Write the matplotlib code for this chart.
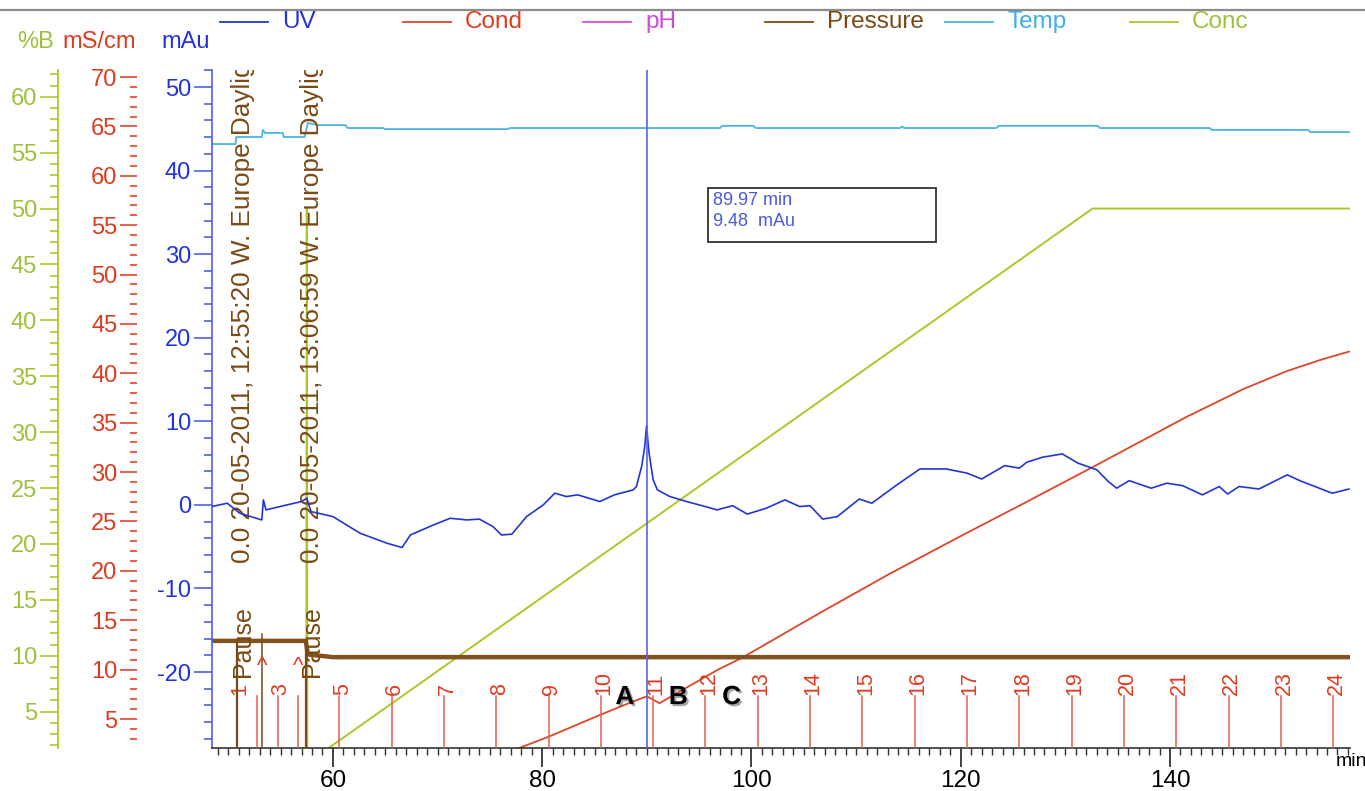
import matplotlib
matplotlib.use("Agg")
import matplotlib.pyplot as plt
import matplotlib.patheffects as pe
from matplotlib.lines import Line2D
from matplotlib.patches import Rectangle
from matplotlib.ticker import MultipleLocator

plt.rcParams['font.family'] = ['Liberation Sans', 'DejaVu Sans']
plt.rcParams['axes.unicode_minus'] = False

# colours of the traces
C_UV = '#2435d6'
C_UV_AX = '#4f60e6'
C_COND = '#e0452a'
C_PH = '#d94ce0'
C_PRES = '#7b4a14'
C_TEMP = '#4ab4e2'
C_CONC = '#a9c92a'
C_FRAC = '#e2604c'

# UV trace (min, mAu)
uv_t = [48.4, 49.9, 51.1, 53.2, 53.35, 53.6, 55.6, 57.0, 57.5, 57.9, 60.0, 62.6,
        65.2, 66.6, 67.4, 69.6, 71.2, 72.8, 74.0, 75.3, 76.1, 77.1, 78.5, 80.1,
        81.2, 82.3, 83.4, 85.5, 86.9, 88.7, 89.0, 89.5, 89.8, 89.97, 90.2, 90.6,
        91.0, 92.2, 93.8, 95.3, 96.7, 98.2, 99.6, 101.4, 103.2, 104.6, 105.6,
        106.8, 108.2, 110.3, 111.5, 113.9, 116.1, 118.6, 120.6, 122.0, 124.2,
        125.6, 126.3, 127.8, 129.7, 131.2, 133.0, 134.1, 134.9, 136.1, 138.2,
        139.7, 141.2, 143.1, 144.7, 145.5, 146.6, 148.5, 151.2, 152.4, 155.5, 157.1]
uv_v = [-0.2, 0.2, -1.0, -1.8, 0.6, -0.6, 0.0, 0.4, 0.8, -0.8, -1.4, -3.4,
        -4.6, -5.1, -3.6, -2.4, -1.6, -1.8, -1.7, -2.6, -3.6, -3.5, -1.4, 0.0,
        1.4, 1.0, 1.2, 0.4, 1.2, 1.8, 2.2, 4.6, 7.0, 9.48, 6.3, 3.0,
        1.8, 1.0, 0.4, -0.1, -0.6, -0.1, -1.1, -0.4, 0.6, -0.2, -0.1,
        -1.7, -1.4, 0.7, 0.2, 2.4, 4.3, 4.3, 3.8, 3.1, 4.7,
        4.4, 5.1, 5.7, 6.1, 5.0, 4.2, 2.8, 2.0, 2.9, 2.0,
        2.6, 2.3, 1.2, 2.2, 1.3, 2.2, 1.9, 3.6, 2.9, 1.4, 1.9]

# conductivity (mS/cm)
cond_t = [48.4, 76.3, 77.8, 80.6, 85.5, 88.5, 90.0, 91.2, 93.5, 96.8, 99.1,
          106.8, 113.2, 119.6, 125.6, 132.6, 141.6, 147.0, 151.1, 154.5, 157.1]
cond_v = [1.4, 1.4, 2.06, 3.2, 5.4, 6.7, 7.3, 6.6, 8.0, 10.0, 11.2,
          15.9, 19.7, 23.3, 26.6, 30.5, 35.6, 38.4, 40.2, 41.4, 42.2]

# concentration (%B)
conc_t = [48.4, 57.0, 57.45, 57.5, 57.55, 132.6, 157.1]
conc_v = [0, 0, 0.3, 50, 0.4, 50, 50]

# system pressure (MPa)
pres_t = [48.4, 57.4, 57.6, 60.0, 157.1]
pres_v = [0.158, 0.158, 0.138, 0.134, 0.134]

# temperature (C)
temp_t = [48.4, 50.7, 50.75, 53.2, 53.3, 53.5, 55.2, 55.3, 57.3, 57.6, 58.5,
          61.2, 61.4, 64.8, 65.0, 76.7, 76.9, 97.0, 97.2, 100.2, 100.4, 114.2,
          114.4, 114.6, 123.4, 123.6, 133.1, 133.3, 143.8, 144.0, 153.2, 153.4, 157.1]
temp_v = [22.27, 22.27, 22.53, 22.53, 22.79, 22.68, 22.68, 22.53, 22.53, 23.05, 22.97,
          22.97, 22.86, 22.86, 22.82, 22.82, 22.86, 22.86, 22.94, 22.94, 22.86, 22.86,
          22.92, 22.86, 22.86, 22.94, 22.94, 22.86, 22.86, 22.79, 22.79, 22.71, 22.71]

# fractions
frac_t = [50.8, 52.7, 54.7, 56.7, 60.6, 65.6, 70.6, 75.6, 80.6, 85.6, 90.6, 95.6,
          100.6, 105.6, 110.6, 115.6, 120.6, 125.6, 130.6, 135.6, 140.6, 145.6,
          150.6, 155.6]
frac_lbl = ['1', '', '3', '', '5', '6', '7', '8', '9', '10', '11', '12', '13', '14',
            '15', '16', '17', '18', '19', '20', '21', '22', '23', '24']

# run log events
event_t = [50.8, 57.4]
event_txt = ['0.0 20-05-2011, 12:55:20 W. Europe Daylight Time',
             '0.0 20-05-2011, 13:06:59 W. Europe Daylight Time']
inject_t = [53.2, 56.7]

peak_lbl = ['A', 'B', 'C']
peak_t = [87.9, 93.0, 98.1]

cursor_t = 89.97
cursor_uv = 9.48

legend_names = ['UV', 'Cond', 'pH', 'Pressure', 'Temp', 'Conc']
legend_cols = [C_UV, C_COND, C_PH, C_PRES, C_TEMP, C_CONC]
legend_txt_cols = ['#2233dd', '#dd3b1e', '#d04ad8', '#7b4a14', '#3fb0e4', '#9dc23a']

W, H = 1365, 791
fig = plt.figure(figsize=(W / 100, H / 100), dpi=100)
ax = fig.add_axes([212 / W, 43 / H, 1138 / W, 678 / H])

conc_ax = ax.twinx()
cond_ax = ax.twinx()
temp_ax = ax.twinx()
pres_ax = ax.twinx()

for a, z in [(conc_ax, 1), (cond_ax, 2), (temp_ax, 3), (pres_ax, 3)]:
    a.set_zorder(z)
    for s in ['top', 'bottom', 'right']:
        a.spines[s].set_visible(False)
ax.set_zorder(5)
ax.patch.set_visible(False)

# traces
conc_ax.plot(conc_t, conc_v, color=C_CONC, lw=1.4)
cond_ax.plot(cond_t, cond_v, color=C_COND, lw=1.3)
temp_ax.plot(temp_t, temp_v, color=C_TEMP, lw=1.3)
pres_ax.plot(pres_t, pres_v, color=C_PRES, lw=3.2, alpha=0.95)
ax.plot(uv_t, uv_v, color=C_UV, lw=1.2, zorder=4)

ax.set_xlim(48.44, 157.2)
ax.set_ylim(-29.09, 52.04)
cond_ax.set_ylim(2.064, 70.71)
conc_ax.set_ylim(1.75, 62.39)
temp_ax.set_ylim(0, 25)
pres_ax.set_ylim(0, 1)
temp_ax.axis('off')
pres_ax.axis('off')

# UV axis
ax.spines['top'].set_visible(False)
ax.spines['right'].set_visible(False)
ax.spines['left'].set_color(C_UV_AX)
ax.spines['left'].set_linewidth(1.2)
ax.spines['bottom'].set_color('#333333')
ax.spines['bottom'].set_linewidth(1.2)
ax.set_yticks(range(-20, 51, 10))
ax.yaxis.set_minor_locator(MultipleLocator(2))
ax.tick_params(axis='y', which='major', length=13, width=1.2, color=C_UV_AX,
               labelcolor='#2233dd', labelsize=17, pad=2)
ax.tick_params(axis='y', which='minor', length=6, width=1.2, color=C_UV_AX)

# x axis
ax.set_xticks([60, 80, 100, 120, 140])
ax.xaxis.set_minor_locator(MultipleLocator(1))
ax.tick_params(axis='x', which='major', length=14, width=1.3, color='#333333',
               labelsize=17.5, pad=2)
ax.tick_params(axis='x', which='minor', length=5, width=1.0, color='#333333')

# conductivity axis
cond_ax.spines['left'].set_visible(True)
cond_ax.spines['left'].set_position(('axes', -75 / 1138))
cond_ax.spines['left'].set_color('none')
cond_ax.yaxis.tick_left()
cond_ax.set_yticks(range(5, 71, 5))
cond_ax.yaxis.set_minor_locator(MultipleLocator(1))
cond_ax.tick_params(axis='y', which='major', length=12, width=1.2, color=C_COND,
                    labelcolor='#dd3b1e', labelsize=17, pad=2)
cond_ax.tick_params(axis='y', which='minor', length=5, width=1.2, color=C_COND)

# concentration axis
conc_ax.spines['left'].set_visible(True)
conc_ax.spines['left'].set_position(('axes', -154 / 1138))
conc_ax.spines['left'].set_color(C_CONC)
conc_ax.spines['left'].set_linewidth(1.3)
conc_ax.yaxis.tick_left()
conc_ax.set_yticks(range(5, 61, 5))
conc_ax.yaxis.set_minor_locator(MultipleLocator(1))
conc_ax.tick_params(axis='y', which='major', length=13, width=1.2, color=C_CONC,
                    labelcolor='#9dc23a', labelsize=17, pad=2)
conc_ax.tick_params(axis='y', which='minor', length=6, width=1.2, color=C_CONC)

# fraction marks
for t, lbl in zip(frac_t, frac_lbl):
    ax.plot([t, t], [-29.09, -22.9], color=C_FRAC, lw=1.1, zorder=3)
    if lbl:
        ax.text(t + 0.3, -22.7, lbl, rotation=90, ha='center', va='bottom',
                color='#e03a20', fontsize=15.5, zorder=3)

# log book events
for t, txt in zip(event_t, event_txt):
    ax.plot([t, t], [-29.09, -16.2], color=C_PRES, lw=1.6, zorder=3)
    ax.text(t + 0.6, -7.0, txt, rotation=90, ha='center', va='bottom',
            color='#7b4a14', fontsize=18.8, clip_on=True, zorder=3)
    ax.text(t + 0.6, -20.6, 'Pause', rotation=90, ha='center', va='bottom',
            color='#7b4a14', fontsize=18, zorder=3)

ax.plot([inject_t[0], inject_t[0]], [-29.09, -15.4], color=C_PRES, lw=1.1, zorder=3)
for t in inject_t:
    ax.text(t, -19.3, '^', ha='center', va='center', color='#e03a20',
            fontsize=16, zorder=3)

for t, lbl in zip(peak_t, peak_lbl):
    ax.text(t, -23.0, lbl, ha='center', va='center', fontsize=19,
            fontweight='bold', color='black', zorder=6,
            path_effects=[pe.SimplePatchShadow(offset=(1.5, -1.5), alpha=0.35),
                          pe.Normal()])

# cursor
ax.axvline(cursor_t, color='#5566e6', lw=1.2, zorder=6)
ax.add_patch(Rectangle((496 / 1138, 506 / 678), 228 / 1138, 54 / 678,
                       transform=ax.transAxes, fc='white', ec='#333333',
                       lw=1.3, zorder=7))
ax.text(501 / 1138, 556 / 678, f'{cursor_t:.2f} min\n{cursor_uv:.2f}  mAu',
        transform=ax.transAxes, ha='left', va='top', color='#4a5ad8',
        fontsize=13, linespacing=1.3, zorder=8)

# unit labels
fig.text(36 / W, 1 - 42 / H, '%B', color='#9dc23a', fontsize=17, ha='center', va='center')
fig.text(99 / W, 1 - 42 / H, 'mS/cm', color='#dd3b1e', fontsize=17, ha='center', va='center')
fig.text(186 / W, 1 - 42 / H, 'mAu', color='#2233dd', fontsize=17, ha='center', va='center')
fig.text(1351 / W, 1 - 762 / H, 'min', color='black', fontsize=14, ha='center', va='center')

# legend row
leg_x = [220, 403, 583, 765, 945, 1130]
for x0, name, c, tc in zip(leg_x, legend_names, legend_cols, legend_txt_cols):
    fig.add_artist(Line2D([x0 / W, (x0 + 48) / W], [1 - 22 / H] * 2, color=c, lw=1.3))
    fig.text((x0 + 62) / W, 1 - 22 / H, name, color=tc, fontsize=17.5,
             ha='left', va='center')

fig.add_artist(Line2D([0, 1], [1 - 10 / H] * 2, color='#8c8c8c', lw=1.6))

fig.savefig('out.png', dpi=100, facecolor='white')
